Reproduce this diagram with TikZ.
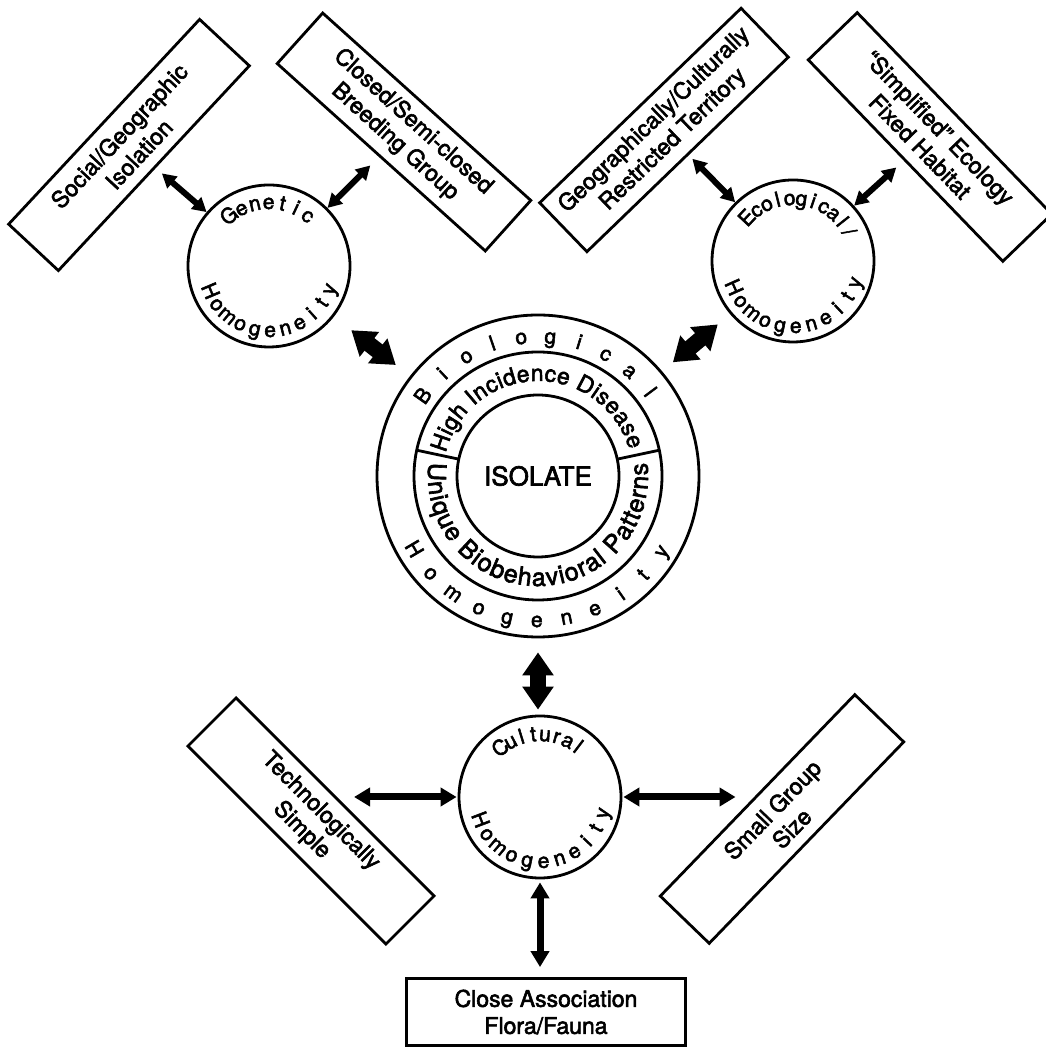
\documentclass[tikz,border=0pt]{standalone}
\usepackage{fontspec}
\setmainfont{TeX Gyre Heros}[FakeBold=2.5]
\usetikzlibrary{arrows.meta,decorations.text}

\newcommand{\circfont}{\fontsize{21}{25}\selectfont}
\newcommand{\ringfont}{\fontsize{21}{25}\selectfont}
\newcommand{\upbandfont}{\fontsize{23}{27}\selectfont}
\newcommand{\lowbandfont}{\fontsize{25}{29}\selectfont}

\begin{document}
\begin{tikzpicture}[x=1pt,y=1pt,line width=2.8pt,
  factor/.style={draw,rectangle,minimum width=280pt,minimum height=68pt,
    inner sep=0pt,align=center,font=\fontsize{23}{27}\selectfont},
  homog/.style={draw,circle,minimum size=162pt,inner sep=0pt},
  upletter/.style={inner sep=0pt,anchor=base,font=\circfont},
  thinarrow/.style={line width=6pt,>={Triangle[width=15pt,length=14pt]},<->},
  midarrow/.style={line width=7pt,>={Triangle[width=18pt,length=16pt]},<->},
  bigarrow/.style={line width=16pt,>={Triangle[width=30pt,length=23pt]},<->},
  arctext/.style={decorate,decoration={text along path,text align={fit to path},text={#1}}}]
  \useasboundingbox (0,0) rectangle (1045,1048);

  % central isolate: three rings
  \node[draw,circle,minimum size=322pt,inner sep=0pt] (bio) at (538,572) {};
  \draw (bio.center) circle[radius=124];
  \node[homog,font=\fontsize{26}{30}\selectfont] (isolate) at (bio.center) {ISOLATE};
  \draw ([shift={(168:81)}]bio.center) -- ([shift={(168:124)}]bio.center);
  \draw ([shift={(12:81)}]bio.center) -- ([shift={(12:124)}]bio.center);
  \foreach \ch [count=\i from 0, evaluate=\i as \a using 145.1-12.04*\i]
      in {B,i,o,l,o,g,i,c,a,l}
    \node[upletter,font=\ringfont,rotate=\a-90] at ([shift={(\a:133)}]bio.center) {\ch};
  \foreach \ch [count=\i from 0, evaluate=\i as \a using 210.5+11.81*\i]
      in {H,o,m,o,g,e,n,e,i,t,y}
    \node[upletter,font=\ringfont,rotate=\a+90] at ([shift={(\a:151)}]bio.center) {\ch};
  \path[arctext={|\upbandfont|High Incidence Disease}]
    ([shift={(166:95)}]bio.center) arc[start angle=166,end angle=16,radius=95];
  \path[arctext={|\lowbandfont|Unique Biobehavioral Patterns}]
    ([shift={(173:110)}]bio.center) arc[start angle=173,end angle=367,radius=110];

  % genetic
  \node[homog] (genetic) at (269,782) {};
  \foreach \ch [count=\i from 0, evaluate=\i as \a using 128.4-12.7*\i]
      in {G,e,n,e,t,i,c}
    \node[upletter,rotate=\a-90] at ([shift={(\a:57)}]genetic.center) {\ch};
  \foreach \ch [count=\i from 0, evaluate=\i as \a using 203+13.6*\i]
      in {H,o,m,o,g,e,n,e,i,t,y}
    \node[upletter,rotate=\a+90] at ([shift={(\a:71)}]genetic.center) {\ch};

  % ecological
  \node[homog] (eco) at (793,787) {};
  \foreach \ch [count=\i from 0, evaluate=\i as \a using 136.9-10.95*\i]
      in {E,c,o,l,o,g,i,c,a,l,/}
    \node[upletter,rotate=\a-90] at ([shift={(\a:56)}]eco.center) {\ch};
  \foreach \ch [count=\i from 0, evaluate=\i as \a using 204+13.68*\i]
      in {H,o,m,o,g,e,n,e,i,t,y}
    \node[upletter,rotate=\a+90] at ([shift={(\a:72)}]eco.center) {\ch};

  % cultural
  \node[homog] (cultural) at (540,251) {};
  \foreach \ch [count=\i from 0, evaluate=\i as \a using 128.9-10.89*\i]
      in {C,u,l,t,u,r,a,l}
    \node[upletter,rotate=\a-90] at ([shift={(\a:56)}]cultural.center) {\ch};
  \foreach \ch [count=\i from 0, evaluate=\i as \a using 200.8+14.47*\i]
      in {H,o,m,o,g,e,n,e,i,t,y}
    \node[upletter,rotate=\a+90] at ([shift={(\a:71)}]cultural.center) {\ch};

  % factor boxes
  \node[factor,rotate=47] (social) at (129,903) {Social/Geographic\\Isolation};
  \node[factor,rotate=-42] (closed) at (404,916) {Closed/Semi-closed\\Breeding Group};
  \node[factor,rotate=44] (geo) at (664,918) {Geographically/Culturally\\Restricted Territory};
  \node[factor,rotate=-46] (simp) at (930,911) {``Simplified'' Ecology\\Fixed Habitat};
  \node[factor,rotate=-45] (tech) at (311,227) {Technologically\\Simple};
  \node[factor,rotate=46] (small) at (782,229) {Small Group\\Size};
  \node[factor,minimum width=279pt,minimum height=67pt] (assoc) at (546,36)
    {Close Association\\Flora/Fauna};

  % arrows
  \draw[thinarrow,shorten <=8pt] (social) -- (genetic);
  \draw[thinarrow,shorten >=12pt] (genetic) -- (closed);
  \draw[thinarrow,shorten <=5pt] (geo) -- (eco);
  \draw[thinarrow,shorten >=10pt] (eco) -- (simp);
  \draw[bigarrow,shorten <=22pt,shorten >=18pt] (genetic) -- (bio);
  \draw[bigarrow,shorten <=16pt,shorten >=14pt] (eco) -- (bio);
  \draw[bigarrow,shorten <=14pt,shorten >=5pt] (bio.south) -- (bio.south |- cultural.north);
  \draw[midarrow,shorten <=1pt,shorten >=18pt] (cultural.west) -- (cultural.west -| tech.north);
  \draw[midarrow,shorten <=1pt,shorten >=21pt] (cultural.east) -- (cultural.east -| small.north);
  \draw[midarrow,shorten <=3pt,shorten >=10pt] (cultural.south) -- (cultural.south |- assoc.north);
\end{tikzpicture}
\end{document}
